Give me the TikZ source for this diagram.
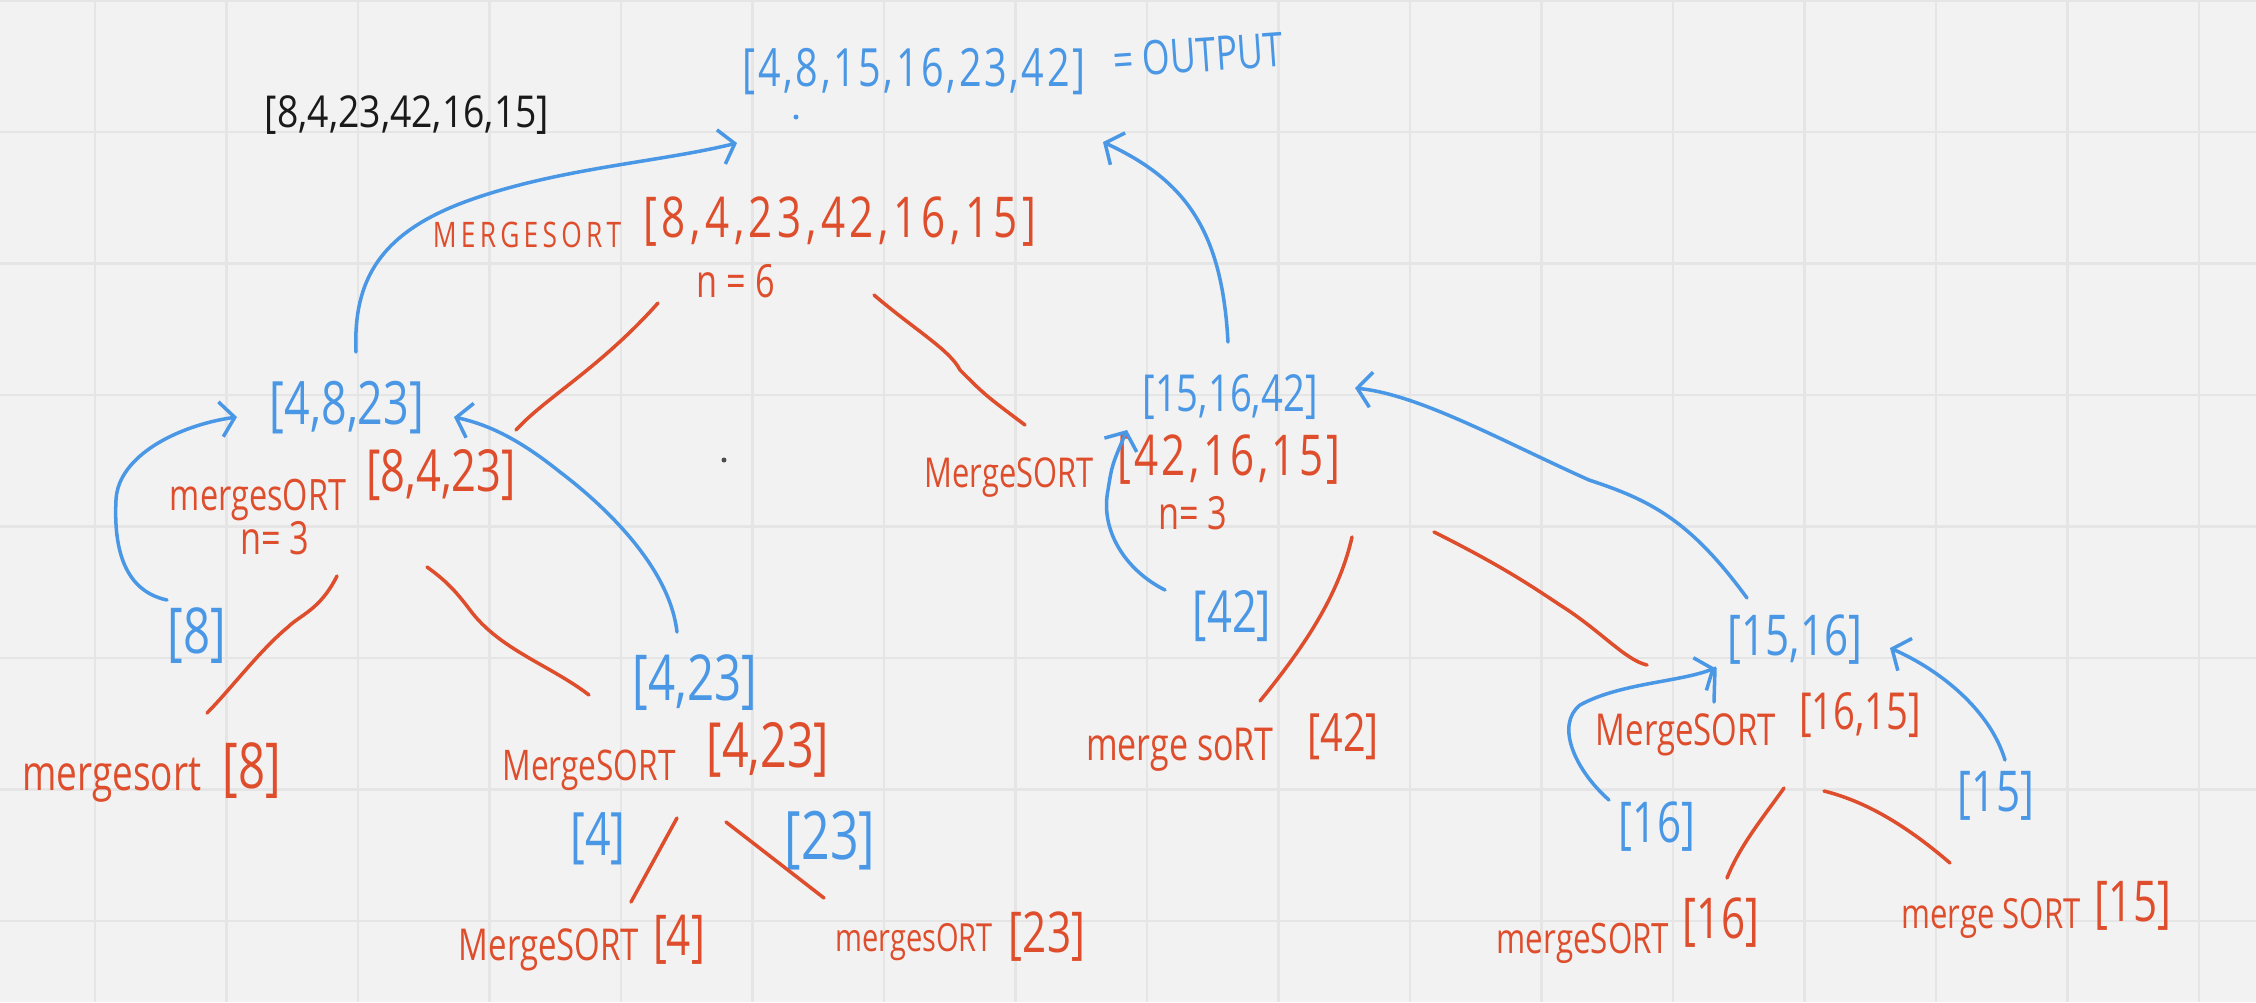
\documentclass[tikz,border=0pt]{standalone}
\usepackage{fontspec}
\usetikzlibrary{arrows.meta}
\newfontfamily\hand[FakeStretch=0.75]{Open Sans}
\newfontfamily\typed[FakeStretch=0.85]{Open Sans}
\definecolor{bgc}{RGB}{242,242,242}
\definecolor{gridc}{RGB}{229,229,229}
\definecolor{penblue}{RGB}{74,152,229}
\definecolor{penred}{RGB}{222,78,44}
\definecolor{ink}{RGB}{26,26,26}
\tikzset{
 hs/.style={font=\hand\fontsize{#1}{#1}\selectfont, inner sep=0pt},
 hsl/.style 2 args={font=\hand\fontsize{#1}{#1}\selectfont\addfontfeature{LetterSpace=#2}, inner sep=0pt},
 bt/.style={text=penblue, hs=#1},
 rt/.style={text=penred, hs=#1},
 rl/.style={draw=penred, line width=1pt, line cap=round, line join=round},
 bl/.style={draw=penblue, line width=1pt, line cap=round, line join=round},
 ba/.style={bl, -{Straight Barb[length=4pt,width=10pt]}},
 gridln/.style={draw=gridc, line width=0.8pt},
}
\begin{document}
\begin{tikzpicture}[x=0.01cm,y=-0.01cm]
\fill[bgc] (0,0) rectangle (2256,1002);
\useasboundingbox (0,0) rectangle (2256,1002);
\foreach \k in {0,...,16} \draw[gridln] ({95+131.5*\k},0) -- ({95+131.5*\k},1002);
\foreach \k in {0,...,7} \draw[gridln] (0,{0.5+131.5*\k}) -- (2256,{0.5+131.5*\k});

% texts
\node[text=ink, font=\typed\fontsize{12.5}{12.5}\selectfont, inner sep=0pt] (input) at (407,115) {[8,4,23,42,16,15]};
\node[text=penblue, hsl={15}{5}] (out) at (914,72) {[4,8,15,16,23,42]};
\node[bt=13.5, rotate=4] (outlbl) at (1198,55) {= OUTPUT};
\node[text=penred, hsl={10}{12}] (ms0) at (527,235) {MERGESORT};
\node[text=penred, hsl={16}{8}] (ms0a) at (840,222) {[8,4,23,42,16,15]};
\node[rt=13] (n6) at (736,281) {n = 6};
\node[bt=17] (r1) at (347,408) {[4,8,23]};
\node[bt=14.5] (r2) at (1230,397) {[15,16,42]};
\node[rt=12.3] (msL) at (258,500) {mergesORT};
\node[rt=13] (nL) at (275,538) {n= 3};
\node[rt=16.5] (msLa) at (441,475) {[8,4,23]};
\node[bt=18] (v8) at (197,636) {[8]};
\node[bt=18] (v423) at (695,683) {[4,23]};
\node[rt=14] (ms8) at (112,780) {mergesort};
\node[rt=18] (ms8a) at (252,771) {[8]};
\node[rt=12] (ms423) at (589,770) {MergeSORT};
\node[rt=17.7] (ms423a) at (768,750) {[4,23]};
\node[bt=17] (v4) at (598,839) {[4]};
\node[bt=19] (v23) at (830,841) {[23]};
\node[rt=12.5] (ms4) at (549,950) {MergeSORT};
\node[rt=16] (ms4a) at (679,940) {[4]};
\node[rt=11] (ms23) at (914,942) {mergesORT};
\node[rt=16] (ms23a) at (1047,937) {[23]};
\node[rt=11.7] (msR) at (1009,478) {MergeSORT};
\node[text=penred, hsl={16}{6}] (msRa) at (1229,460) {[42,16,15]};
\node[rt=13] (nR) at (1193,513) {n= 3};
\node[bt=16.5] (v42) at (1232,616) {[42]};
\node[rt=12.9] (ms42) at (1180,750) {merge soRT};
\node[rt=15] (ms42a) at (1343,737) {[42]};
\node[bt=16] (v1516) at (1795,640) {[15,16]};
\node[rt=12.5] (ms1615) at (1686,735) {MergeSORT};
\node[rt=14.5] (ms1615a) at (1860,715) {[16,15]};
\node[bt=16] (v16) at (1657,827) {[16]};
\node[bt=16] (v15) at (1996,796) {[15]};
\node[rt=11.9] (ms16) at (1583,943) {mergeSORT};
\node[rt=16] (ms16a) at (1721,923) {[16]};
\node[rt=11.8] (ms15) at (1991,918) {merge SORT};
\node[rt=16] (ms15a) at (2133,906) {[15]};

% stray dots
\fill[penblue] (796,117) circle[radius=2.5];
\fill[black!70] (724,460) circle[radius=2.5];

% connector end points
\coordinate (a1) at (658,303); \coordinate (a2) at (516,430);
\coordinate (c1) at (874,295); \coordinate (c2) at (1025,425);
\coordinate (d1) at (337,576); \coordinate (d2) at (207,713);
\coordinate (e1) at (427,567); \coordinate (e2) at (589,695);
\coordinate (f1) at (677,818); \coordinate (f2) at (631,902);
\coordinate (g1) at (726,822); \coordinate (g2) at (824,898);
\coordinate (h1) at (1352,537); \coordinate (h2) at (1260,701);
\coordinate (i1) at (1434,532); \coordinate (i2) at (1647,665);
\coordinate (j1) at (1784,788); \coordinate (j2) at (1727,878);
\coordinate (k1) at (1824,791); \coordinate (k2) at (1950,863);

% red split lines
\draw[rl] (a1) .. controls (600,368) and (545,398) .. (a2);
\draw[rl] (c1) .. controls (915,330) and (950,350) .. (960,370) .. controls (985,395) .. (c2);
\draw[rl] (d1) .. controls (320,610) and (300,615) .. (288,627) .. controls (260,650) and (230,690) .. (d2);
\draw[rl] (e1) .. controls (445,580) and (455,590) .. (470,610) .. controls (500,650) and (550,665) .. (e2);
\draw[rl] (f1) -- (f2);
\draw[rl] (g1) -- (g2);
\draw[rl] (h1) .. controls (1340,590) and (1310,640) .. (h2);
\draw[rl] (i1) .. controls (1500,565) and (1530,585) .. (1560,605) .. controls (1600,630) and (1625,660) .. (i2);
\draw[rl] (j1) .. controls (1765,815) and (1740,845) .. (j2);
\draw[rl] (k1) .. controls (1860,800) and (1900,820) .. (k2);

% blue merge arrows
\coordinate (b1s) at (356,352); \coordinate (b1e) at (737,143);
\draw[ba] (b1s) .. controls (353,280) and (380,232) .. (470,200) .. controls (560,168) and (660,162) .. (b1e);
\coordinate (b2s) at (1228,342); \coordinate (b2e) at (1103,142);
\draw[ba] (b2s) .. controls (1222,230) and (1185,180) .. (b2e);
\coordinate (b3s) at (167,600); \coordinate (b3e) at (237,417);
\draw[ba] (b3s) .. controls (120,590) and (114,540) .. (116,500) .. controls (118,455) and (180,425) .. (b3e);
\coordinate (b4s) at (677,632); \coordinate (b4e) at (454,417);
\draw[ba] (b4s) .. controls (670,570) and (610,510) .. (560,472) .. controls (520,440) and (490,425) .. (b4e);
\coordinate (b5s) at (1165,590); \coordinate (b5e) at (1127,430);
\draw[ba] (b5s) .. controls (1125,570) and (1100,530) .. (1108,490) .. controls (1112,465) .. (b5e);
\coordinate (b6s) at (1747,598); \coordinate (b6e) at (1355,388);
\draw[ba] (b6s) .. controls (1690,520) and (1650,500) .. (1589,480) .. controls (1500,440) and (1420,395) .. (b6e);
\coordinate (b7s) at (1609,800); \coordinate (b7e) at (1715,668);
\draw[ba] (b7s) .. controls (1575,770) and (1555,725) .. (1580,705) .. controls (1620,683) and (1680,682) .. (b7e);
\coordinate (b7t) at (1714,702);
\draw[bl] (b7t) -- (b7e);
\coordinate (b8s) at (2005,760); \coordinate (b8e) at (1890,648);
\draw[ba] (b8s) .. controls (1990,710) and (1940,670) .. (b8e);
\end{tikzpicture}
\end{document}
